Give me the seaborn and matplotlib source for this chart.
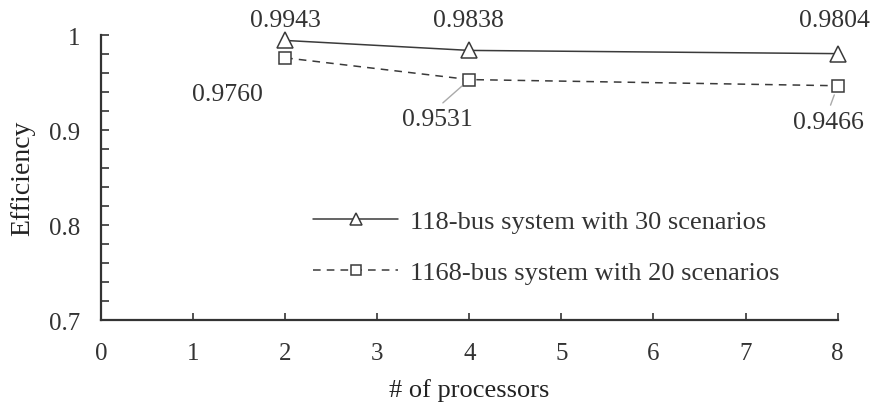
import matplotlib
matplotlib.use("Agg")
import matplotlib.pyplot as plt
import seaborn as sns
import pandas as pd
from matplotlib.ticker import MultipleLocator

processors = [2, 4, 8]
eff_118 = [0.9943, 0.9838, 0.9804]
eff_1168 = [0.9760, 0.9531, 0.9466]
label_118 = "118-bus system with 30 scenarios"
label_1168 = "1168-bus system with 20 scenarios"

sns.set_style("white")
plt.rcParams['font.family'] = ['Liberation Serif', 'DejaVu Serif']
plt.rcParams['xtick.bottom'] = True
plt.rcParams['ytick.left'] = True

fig = plt.figure(figsize=(8.78, 4.14), dpi=100)
ax = fig.add_axes([0.115, 0.2246, 0.839, 0.6884])

df1 = pd.DataFrame({"x": processors, "y": eff_118})
df2 = pd.DataFrame({"x": processors, "y": eff_1168})

lc = "#3a3a3a"
sns.lineplot(data=df1, x="x", y="y", ax=ax, color=lc, linewidth=1.1,
             marker="^", markersize=11, markerfacecolor="white",
             markeredgecolor=lc, markeredgewidth=1.1, label=label_118)
sns.lineplot(data=df2, x="x", y="y", ax=ax, color=lc, linewidth=1.1,
             marker="s", markersize=9, markerfacecolor="white",
             markeredgecolor=lc, markeredgewidth=1.1, label=label_1168)
ax.lines[1].set_dashes((5, 4))
for ln in ax.lines:
    ln.set_clip_on(False)

ax.set_xlim(0, 8)
ax.set_ylim(0.7, 1.0)
ax.set_xticks(range(0, 9))
ax.set_yticks([0.7, 0.8, 0.9, 1.0])
ax.set_yticklabels(["0.7", "0.8", "0.9", "1"])
ax.yaxis.set_minor_locator(MultipleLocator(0.02))
ax.tick_params(axis="both", which="both", direction="in", labelsize=18,
               colors="#333333", width=1.2)
ax.tick_params(axis="y", which="both", left=True, length=6, pad=15)
ax.tick_params(axis="x", which="major", bottom=True, length=5, pad=16)
for s in ["top", "right"]:
    ax.spines[s].set_visible(False)
for s in ["left", "bottom"]:
    ax.spines[s].set_color("#333333")
    ax.spines[s].set_linewidth(1.6)

ax.set_xlabel("# of processors", fontsize=19, color="#222222", labelpad=10)
ax.set_ylabel("Efficiency", fontsize=20, color="#222222", labelpad=10)

tc = "#333333"
fs = 18.5
# labels for 118-bus (above the points)
pos_118 = [(2.0, 1.0158), (3.99, 1.0158), (7.97, 1.0158)]
for (x, y), (tx, ty) in zip(zip(processors, eff_118), pos_118):
    ax.annotate(f"{y:.4f}", xy=(x, y), xytext=(tx, ty), ha="center",
                va="center", fontsize=fs, color=tc, annotation_clip=False)
# labels for 1168-bus
pos_1168 = [(1.37, 0.938), (3.65, 0.9116), (7.9, 0.9084)]
for (x, y), (tx, ty), lead in zip(zip(processors, eff_1168), pos_1168,
                                  [False, True, True]):
    ax.annotate(f"{y:.4f}", xy=(x, y), xytext=(tx, ty), ha="center",
                va="center", fontsize=fs, color=tc, annotation_clip=False,
                arrowprops=dict(arrowstyle="-", color="#aaaaaa", lw=1.0,
                                relpos=(0.5, 1.0), shrinkA=2, shrinkB=7)
                if lead else None)

leg = ax.legend(loc="upper left", bbox_to_anchor=(0.274, 0.425),
                frameon=False, fontsize=19, handlelength=3.2,
                labelspacing=1.05, handletextpad=0.45, borderaxespad=0,
                markerscale=0.75)
for t in leg.get_texts():
    t.set_color(tc)

fig.savefig("out.png", dpi=100)
